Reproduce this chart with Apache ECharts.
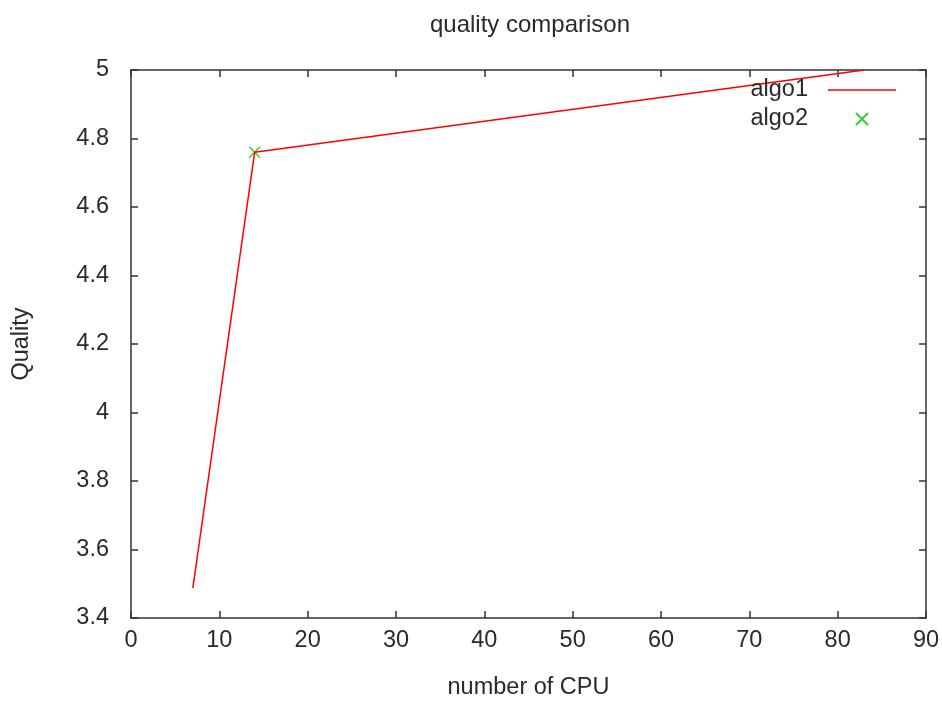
<!DOCTYPE html>
<html>
<head>
<meta charset="utf-8">
<script src="https://cdn.jsdelivr.net/npm/echarts@6/dist/echarts.min.js"></script>
<style>html,body{margin:0;padding:0;background:#fff}#c{width:942px;height:704px}</style>
</head>
<body>
<div id="c"></div>
<script>
const titleText = 'quality comparison';
const xName = 'number of CPU';
const yName = 'Quality';
const algo1X = [7, 14, 83];
const algo1Y = [3.487, 4.76, 5.0];
const algo2X = [14];
const algo2Y = [4.76];

const font = 'Liberation Sans, Arial, sans-serif';
const txt = '#2a2a2a';
const axisCol = '#333';
const fs = 23.5;

function tick() { return { show: true, inside: true, length: 7, lineStyle: { color: axisCol, width: 1.5 } }; }
function aline() { return { show: true, onZero: false, lineStyle: { color: axisCol, width: 1.5 } }; }

const chart = echarts.init(document.getElementById('c'));
chart.setOption({
  animation: false,
  backgroundColor: '#fff',
  title: { text: titleText, left: 525, top: 8, textAlign: 'center',
    textStyle: { fontFamily: font, fontSize: 24, fontWeight: 'normal', color: txt } },
  grid: { left: 131, top: 70, right: 16, bottom: 86, show: false, containLabel: false, outerBoundsMode: 'none' },
  legend: [
    { data: ['algo1'], right: 41, top: 73, itemWidth: 68, itemHeight: 1.6, align: 'right', icon: 'rect',
      itemStyle: { color: '#ff0000', borderWidth: 0 },
      textStyle: { fontFamily: font, fontSize: fs, color: txt, padding: [0, 15, 0, 0] } },
    { data: ['algo2'], right: 68, top: 102, itemWidth: 12, itemHeight: 12, align: 'right',
      textStyle: { fontFamily: font, fontSize: fs, color: txt, padding: [0, 43, 0, 0] } }
  ],
  xAxis: [
    { type: 'value', min: 0, max: 90, interval: 10, position: 'bottom',
      name: xName, nameLocation: 'middle', nameGap: 58,
      nameTextStyle: { fontFamily: font, fontSize: fs, color: txt },
      axisLine: aline(), axisTick: tick(), splitLine: { show: false },
      axisLabel: { fontFamily: font, fontSize: fs, color: txt, margin: 11 } },
    { type: 'value', min: 0, max: 90, interval: 10, position: 'top',
      axisLine: aline(), axisTick: tick(), splitLine: { show: false }, axisLabel: { show: false } }
  ],
  yAxis: [
    { type: 'value', min: 3.4, max: 5, interval: 0.2, position: 'left',
      name: yName, nameLocation: 'middle', nameGap: 97, nameRotate: 90,
      nameTextStyle: { fontFamily: font, fontSize: fs, color: txt },
      axisLine: aline(), axisTick: tick(), splitLine: { show: false },
      axisLabel: { fontFamily: font, fontSize: fs, color: txt, margin: 22,
        formatter: v => String(+v.toFixed(1)) } },
    { type: 'value', min: 3.4, max: 5, interval: 0.2, position: 'right',
      axisLine: aline(), axisTick: tick(), splitLine: { show: false }, axisLabel: { show: false } }
  ],
  series: [
    { name: 'algo1', type: 'line', symbol: 'none', color: '#ff0000',
      lineStyle: { color: '#ff0000', width: 1.5 },
      data: algo1X.map((x, i) => [x, algo1Y[i]]) },
    { name: 'algo2', type: 'scatter', symbol: 'path://M0,0L10,10M10,0L0,10', symbolSize: 11,
      color: '#00c000',
      itemStyle: { color: 'transparent', borderColor: '#00c000', borderWidth: 1.3 },
      data: algo2X.map((x, i) => [x, algo2Y[i]]) }
  ]
});
</script>
</body>
</html>
